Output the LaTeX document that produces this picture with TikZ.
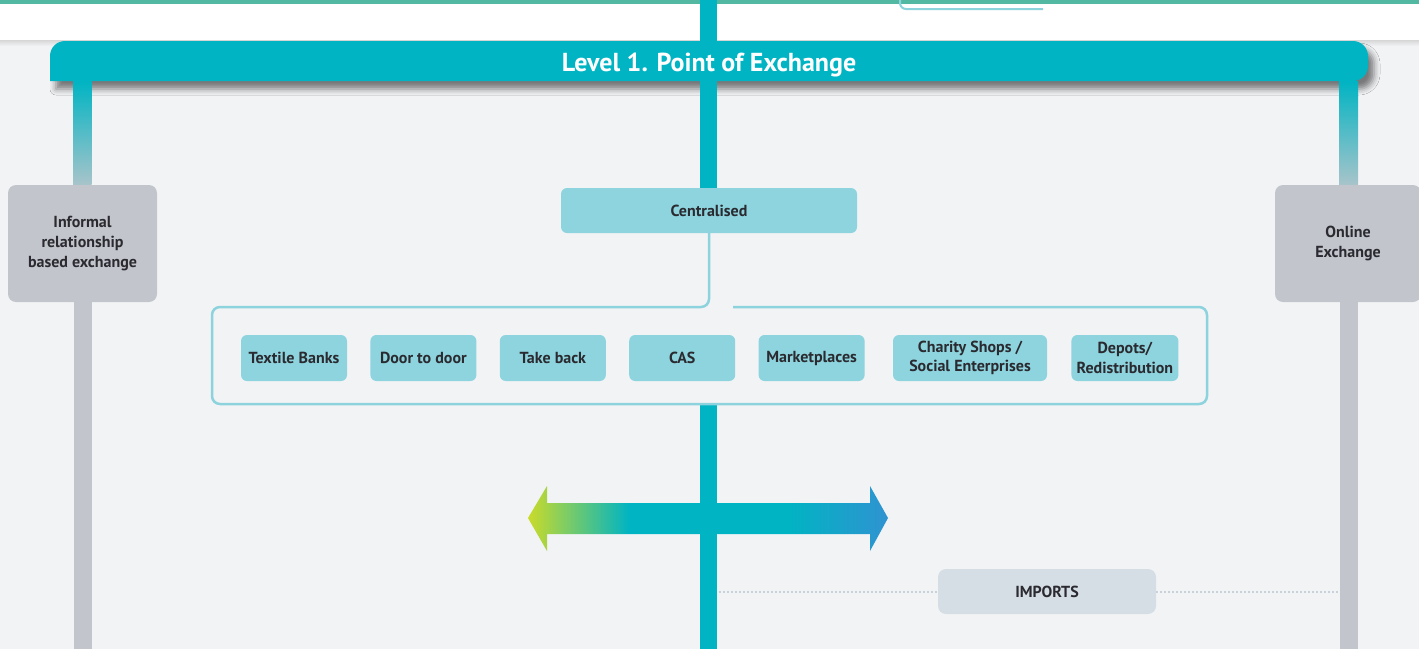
\documentclass[tikz,border=0pt]{standalone}
\usepackage{fontspec}
\setmainfont{PT Sans}
\usetikzlibrary{positioning,calc,shadows.blur}
\definecolor{tealbar}{HTML}{00B4C3}
\definecolor{tealbox}{HTML}{8DD4DE}
\definecolor{tealline}{HTML}{8CD3DD}
\definecolor{greybox}{HTML}{C2C6CC}
\definecolor{greystem}{HTML}{A8C4CA}
\definecolor{paper}{HTML}{F2F3F5}
\definecolor{topstrip}{HTML}{52B8A2}
\definecolor{importbox}{HTML}{D6DEE5}
\definecolor{dotline}{HTML}{C9D2DA}
\definecolor{labeltext}{HTML}{2A2A30}
\definecolor{arrowlime}{HTML}{CADB2A}
\definecolor{arrowblue}{HTML}{2F93D1}
\pgfdeclarehorizontalshading{exchangegrad}{100bp}{color(0bp)=(arrowlime); color(25bp)=(arrowlime); color(39bp)=(tealbar); color(61bp)=(tealbar); color(75bp)=(arrowblue); color(100bp)=(arrowblue)}
\pgfdeclarelayer{backdrop}
\pgfdeclarelayer{stems}
\pgfsetlayers{backdrop,stems,main}
\begin{document}
\begin{tikzpicture}[x=1pt, y=-1pt,
  every node/.style = {font=\bfseries\fontsize{16}{19.5}\selectfont,
    text=labeltext, align=center},
  item/.style = {shape=rectangle, rounded corners=6pt, fill=tealbox,
    minimum width=106pt, minimum height=46pt, inner sep=2pt},
  side/.style = {shape=rectangle, rounded corners=8pt, fill=greybox,
    minimum width=149pt, minimum height=117pt, font=\bfseries\fontsize{16}{20}\selectfont},
  stem/.style = {line width=18pt},
  frame/.style = {draw=tealline, line width=2.5pt, rounded corners=8pt},
  dotrule/.style = {draw=dotline, line width=2pt, dash pattern=on 2pt off 2pt}]
  \useasboundingbox (0,0) rectangle (1419,649);
  \coordinate (barL) at (82,81);
  \coordinate (barC) at (708.5,81);
  \coordinate (barR) at (1348.5,81);
  \coordinate (floor) at (0,649);
  \coordinate (gNW) at (212,307);
  \coordinate (gSE) at (1207,404);

  \begin{pgfonlayer}{backdrop}
    \fill[white] (0,0) rectangle (1419,40);
    \fill[paper] (0,40) rectangle (1419,649);
    \shade[top color=black!16, bottom color=paper] (0,40) rectangle (1419,46);
    \fill[topstrip] (0,0) rectangle (1419,4);
    \draw[tealline, line width=2pt, rounded corners=6pt] (900,-6) -- (900,9) -- (1043,9);
    \fill[tealbar, blur shadow={shadow xshift=6pt, shadow yshift=-8pt,
        shadow blur radius=6pt, shadow opacity=50}]
      (50,81) [rounded corners=15pt] -- (50,41) -- (1368,41) -- (1368,81) [sharp corners] -- cycle;
    \shade[shading=exchangegrad] (528,518) -- (547,486) -- (547,503) -- (870,503)
      -- (870,486) -- (888,518) -- (870,551) -- (870,534) -- (547,534) -- (547,551) -- cycle;
  \end{pgfonlayer}

  \node[text=white, font=\bfseries\fontsize{26}{30}\selectfont] (title) at (709,65) {Level 1. Point of Exchange};

  \node[side] (informal) at (82.5,243.5) {Informal\\relationship\\based exchange};
  \node[side, minimum width=146pt] (online) at (1348,243.5) {Online\\Exchange};
  \node[item, minimum width=296pt, minimum height=45pt] (central) at (709,210.5) {Centralised};

  \node[item] (banks) at (294,358) {Textile Banks};
  \node[item, right=23pt of banks] (door) {Door to door};
  \node[item, right=23pt of door] (takeback) {Take back};
  \node[item, right=23pt of takeback] (cas) {CAS};
  \node[item, right=23pt of cas] (markets) {Marketplaces};
  \node[item, right=28pt of markets, minimum width=154pt] (charity) {Charity Shops /\\Social Enterprises};
  \node[item, right=24pt of charity, minimum width=107pt] (depots) {Depots/\\Redistribution};

  \draw[frame] (central.south) -- (central.south |- gNW) -- (gNW) -- (gNW |- gSE) -- (gSE)
    -- (gSE |- gNW) -- ([xshift=24pt]central.south |- gNW);

  \node[item, fill=importbox, minimum width=218pt, minimum height=45pt, rounded corners=8pt]
    (imports) at (1047,591.5) {IMPORTS};
  \draw[dotrule] ([xshift=10pt]barC |- imports.west) -- (imports.west);
  \draw[dotrule] (imports.east) -- ([xshift=-10pt]barR |- imports.east);

  \begin{pgfonlayer}{stems}
    \shade[top color=tealbar, middle color=tealbar!55!greystem, bottom color=greystem]
      ($(barL)+(-9,0)$) rectangle ($(informal.north)+(9,0)$);
    \shade[top color=tealbar, middle color=tealbar!55!greystem, bottom color=greystem]
      ($(barR)+(-9.5,0)$) rectangle ($(online.north -| barR)+(9.5,0)$);
    \draw[stem, greybox] (informal.south) -- (informal.south |- floor);
    \draw[stem, greybox] (online.south -| barR) -- (barR |- floor);
    \draw[stem, tealbar, line width=17pt] (barC |- 0,0) -- (central.north -| barC);
    \draw[stem, tealbar, line width=17pt] (barC |- gSE) -- (barC |- floor);
  \end{pgfonlayer}
\end{tikzpicture}
\end{document}
